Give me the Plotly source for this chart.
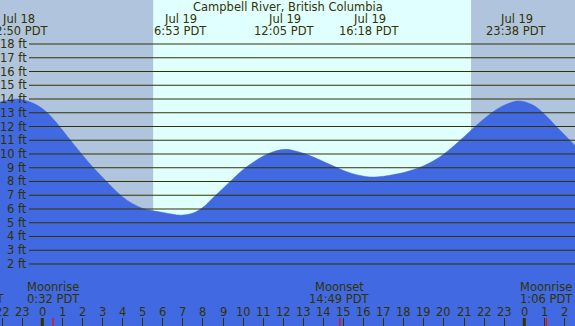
import plotly.graph_objects as go

# ---------------- data ----------------
# hours relative to Jul 19 00:00 PDT
curve_hours = [-2.5, -2, -1.5, -1.167, -0.5, 0, 0.5, 1, 1.5, 2, 2.5, 3, 3.5, 4, 4.5, 5,
               5.5, 6, 6.5, 6.883, 7.5, 8, 8.5, 9, 9.5, 10, 10.5, 11, 11.5, 12.083,
               12.5, 13, 13.5, 14, 14.5, 15, 15.5, 16.3, 17, 17.5, 18, 18.5, 19, 19.5,
               20, 20.5, 21, 21.5, 22, 22.5, 23, 23.633, 24, 24.5, 25, 25.5, 26, 26.5, 27]
curve_feet = [13.65, 13.82, 13.97, 14.0, 13.72, 13.3, 12.62, 11.75, 10.82, 9.93, 9.07, 8.3,
              7.55, 6.88, 6.38, 6.04, 5.87, 5.75, 5.62, 5.55, 5.7, 6.12, 6.82, 7.5, 8.2,
              8.87, 9.4, 9.85, 10.17, 10.34, 10.26, 10.05, 9.78, 9.45, 9.12, 8.8, 8.55, 8.33,
              8.38, 8.5, 8.65, 8.87, 9.15, 9.52, 10.0, 10.6, 11.25, 11.93, 12.57, 13.12,
              13.55, 13.85, 13.8, 13.5, 12.9, 12.15, 11.4, 10.65, 9.9]

tide_event_hours = [-1.167, 6.883, 12.083, 16.3, 23.633]
tide_event_dates = ["Jul 18", "Jul 19", "Jul 19", "Jul 19", "Jul 19"]
tide_event_times = ["22:50 PDT", "6:53 PDT", "12:05 PDT", "16:18 PDT", "23:38 PDT"]

moon_event_hours = [0.533, 14.817, 25.1]
moon_event_names = ["Moonrise", "Moonset", "Moonrise"]
moon_event_times = ["0:32 PDT", "14:49 PDT", "1:06 PDT"]

sunrise_hour = 5.52
sunset_hour = 21.35

foot_levels = list(range(2, 19))
hour_ticks = list(range(-2, 27))
midnight_hours = [0, 24]

title_text = "Campbell River, British Columbia"
left_cut_text = "21:22 PDT"

# ---------------- style ----------------
W, H = 575, 326
X_RANGE = [-2.107, 26.525]
Y_RANGE = [-2.51, 21.2]
TXT = "#333300"
FONT = dict(family="DejaVu Sans", size=11.5, color=TXT)
DAY = "#E0FFFF"
NIGHT = "#B0C4DE"
WATER = "#4169E1"


def py(px):
    return 1 - px / H


fig = go.Figure()

fig.add_trace(go.Scatter(x=curve_hours, y=[-3] * len(curve_hours), mode="lines",
                         line=dict(width=0, color=WATER), hoverinfo="skip", showlegend=False))
fig.add_trace(go.Scatter(x=curve_hours, y=curve_feet, mode="lines", fill="tonexty",
                         fillcolor=WATER, line=dict(color=WATER, width=0.5, shape="spline", smoothing=1.0),
                         hoverinfo="skip", showlegend=False))

shapes = []
# night shading
shapes.append(dict(type="rect", xref="x", yref="paper", x0=X_RANGE[0] - 1, x1=sunrise_hour,
                   y0=0, y1=1, fillcolor=NIGHT, line=dict(width=0), layer="below"))
shapes.append(dict(type="rect", xref="x", yref="paper", x0=sunset_hour, x1=X_RANGE[1] + 1,
                   y0=0, y1=1, fillcolor=NIGHT, line=dict(width=0), layer="below"))
# foot lines
for f in foot_levels:
    shapes.append(dict(type="line", xref="paper", yref="y", x0=29 / W, x1=1, y0=f, y1=f,
                       line=dict(color=TXT, width=1), layer="above"))
# midnight ticks
for m in midnight_hours:
    shapes.append(dict(type="line", xref="x", yref="paper", x0=m, x1=m, y0=0, y1=8 / H,
                       line=dict(color=TXT, width=3), layer="above"))
# moon ticks
for m in moon_event_hours:
    shapes.append(dict(type="line", xref="x", yref="paper", x0=m, x1=m, y0=0, y1=8 / H,
                       line=dict(color="#FF0000", width=1.2), layer="above"))

ann = []
ann.append(dict(text=title_text, xref="paper", yref="paper", x=0.5, y=py(7),
                xanchor="center", yanchor="middle", showarrow=False, font=FONT))
for h, d, t in zip(tide_event_hours, tide_event_dates, tide_event_times):
    ann.append(dict(text=d, xref="x", yref="paper", x=h, y=py(19), xanchor="center",
                    yanchor="middle", showarrow=False, font=FONT))
    ann.append(dict(text=t, xref="x", yref="paper", x=h, y=py(31), xanchor="center",
                    yanchor="middle", showarrow=False, font=FONT))
for h, n, t in zip(moon_event_hours, moon_event_names, moon_event_times):
    ann.append(dict(text=n, xref="x", yref="paper", x=h, y=py(287), xanchor="center",
                    yanchor="middle", showarrow=False, font=FONT))
    ann.append(dict(text=t, xref="x", yref="paper", x=h, y=py(299), xanchor="center",
                    yanchor="middle", showarrow=False, font=FONT))
ann.append(dict(text=left_cut_text, xref="paper", yref="paper", x=0, xshift=7, y=py(299),
                xanchor="right", yanchor="middle", showarrow=False, font=FONT))
for f in foot_levels:
    ann.append(dict(text=f"{f} ft", xref="paper", yref="y", x=29 / W, y=f, xanchor="right",
                    yanchor="middle", showarrow=False, font=FONT))
for h in hour_ticks:
    ann.append(dict(text=str(h % 24), xref="x", yref="paper", x=h, y=py(312), xanchor="center",
                    yanchor="middle", showarrow=False, font=FONT))

fig.update_layout(
    width=W, height=H, autosize=False,
    margin=dict(l=0, r=0, t=0, b=0, pad=0),
    paper_bgcolor=DAY, plot_bgcolor=DAY,
    showlegend=False,
    shapes=shapes, annotations=ann,
    xaxis=dict(range=X_RANGE, showgrid=False, zeroline=False, showline=False,
               ticks="inside", ticklen=8, tickwidth=1, tickcolor=TXT, dtick=1, tick0=0,
               showticklabels=False, fixedrange=True),
    yaxis=dict(range=Y_RANGE, showgrid=False, zeroline=False, showline=False,
               showticklabels=False, ticks="", fixedrange=True),
)

fig.write_html(
    "out.html",
    config={"displayModeBar": False},
    post_script=["document.body.style.margin='0';document.body.style.padding='0';"
                 "document.documentElement.style.overflow='hidden';"],
)
